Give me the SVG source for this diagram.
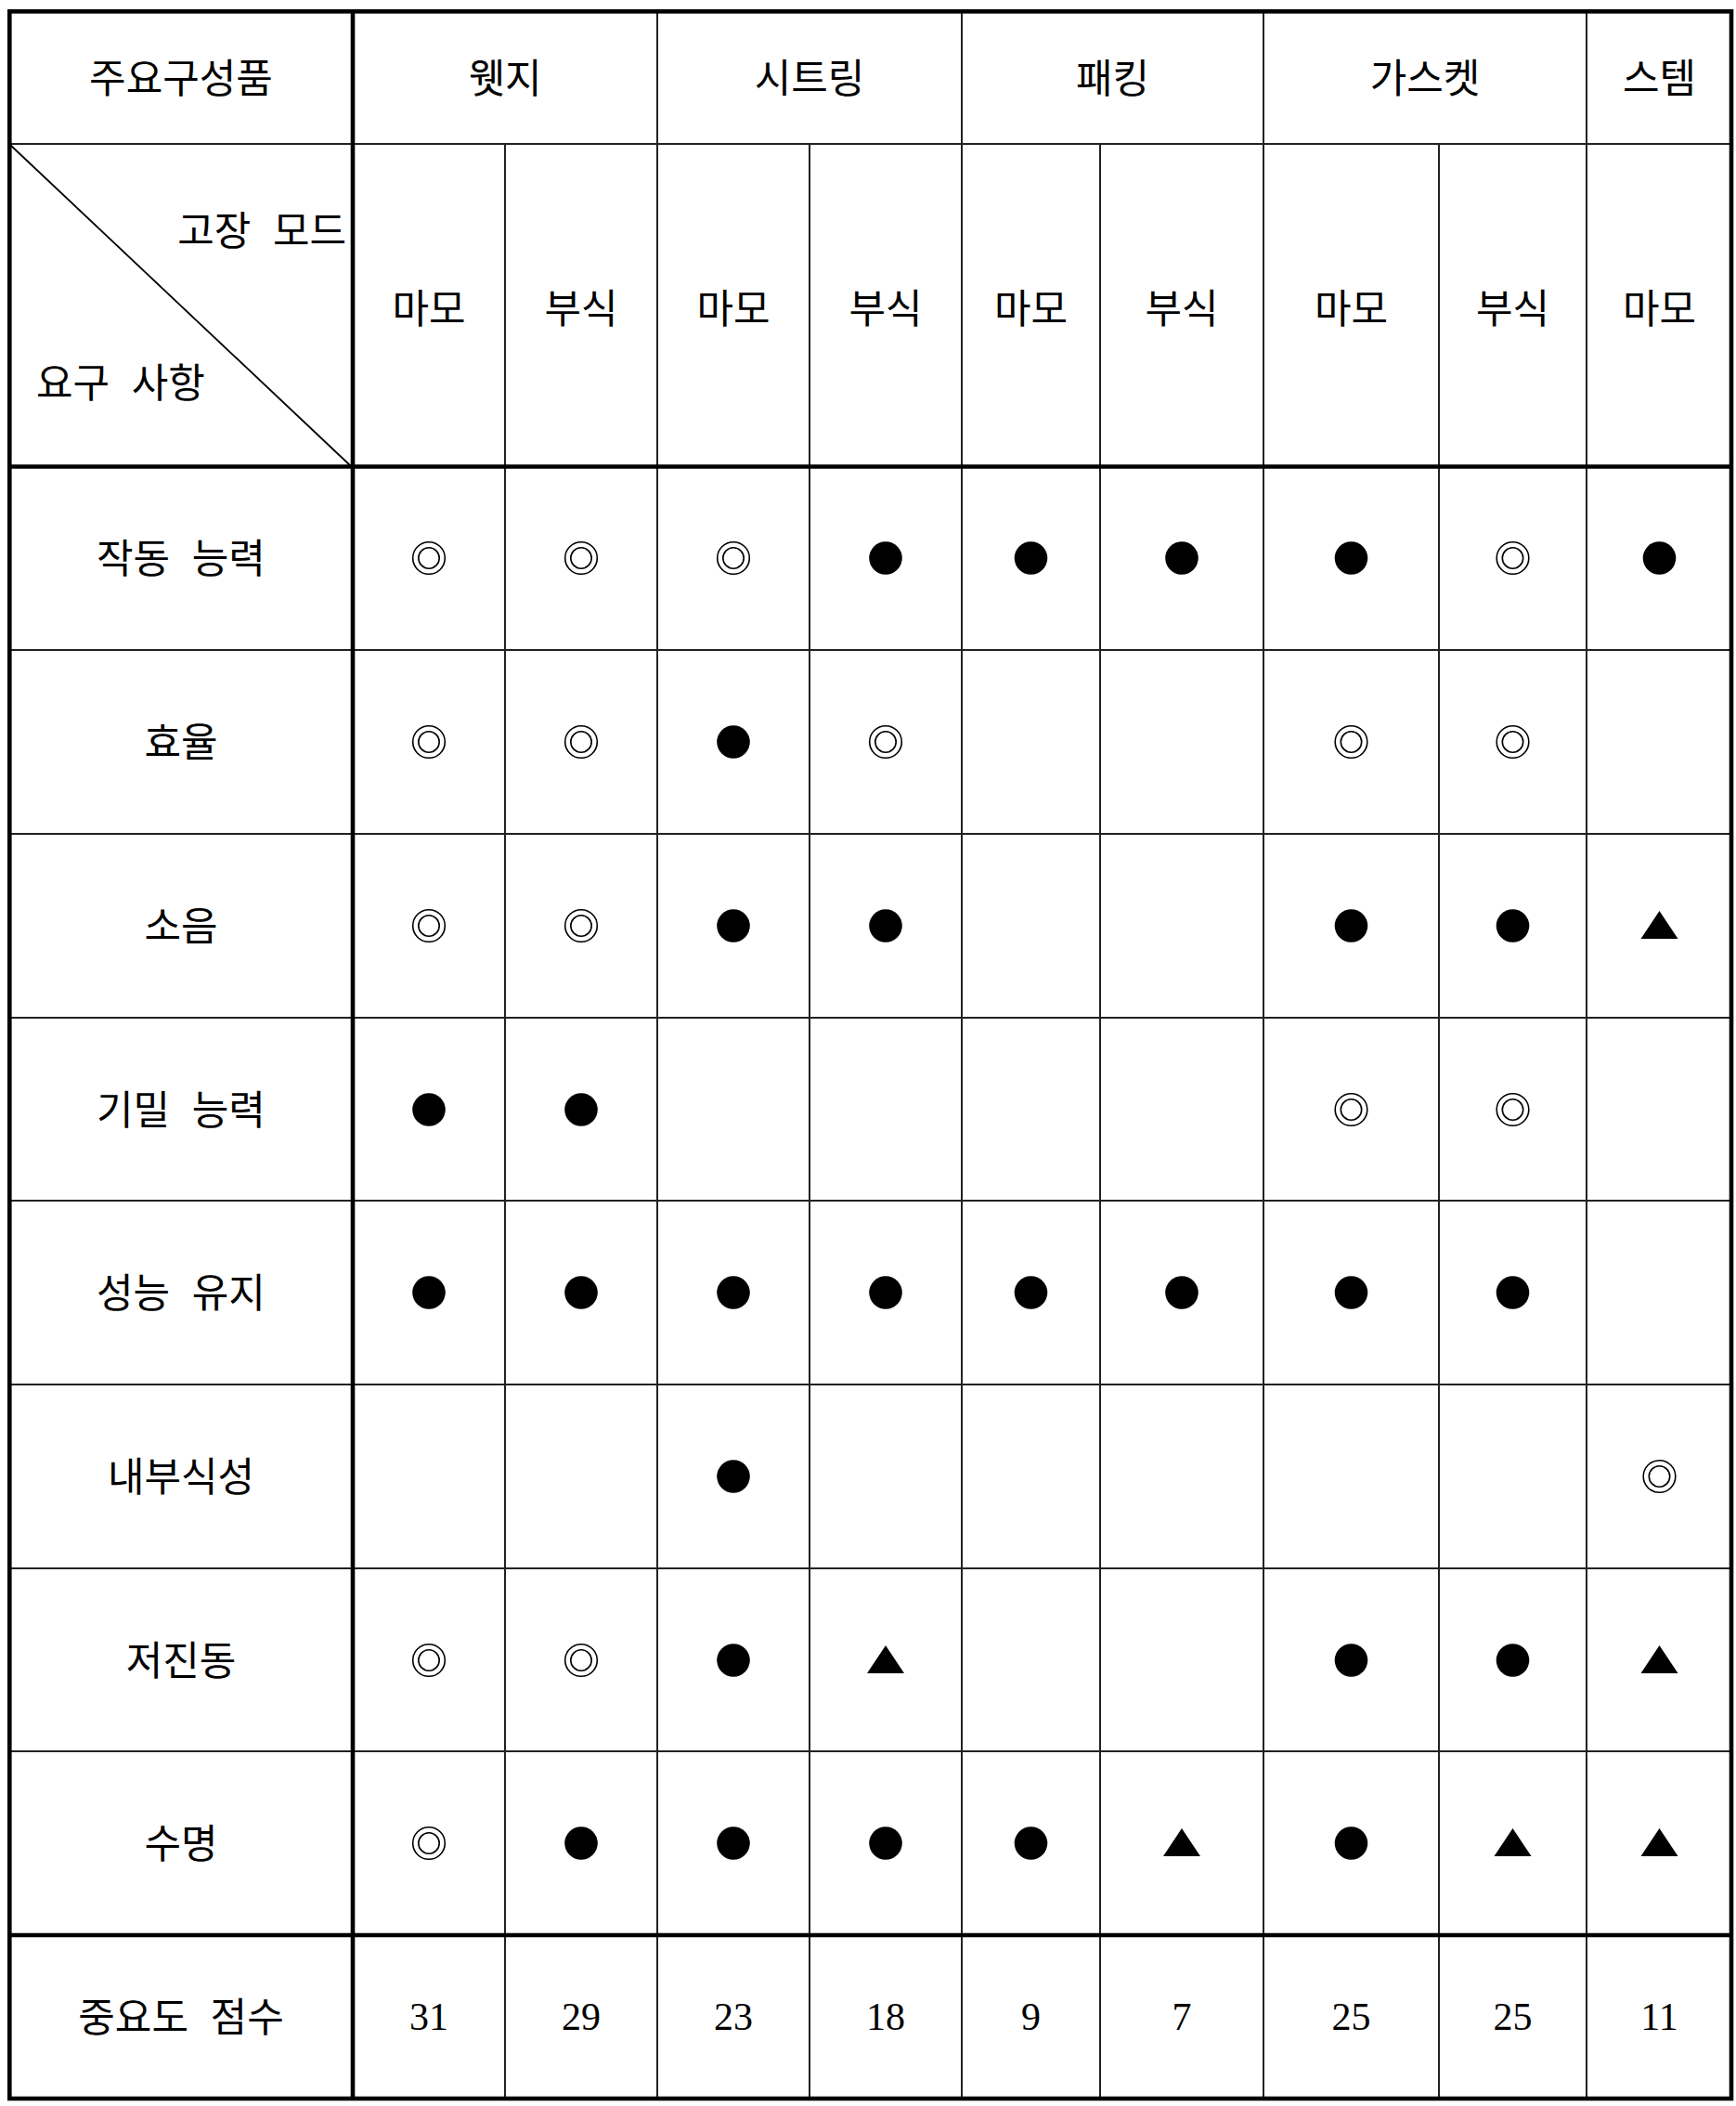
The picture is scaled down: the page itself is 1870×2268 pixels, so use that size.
<svg xmlns="http://www.w3.org/2000/svg" xmlns:xlink="http://www.w3.org/1999/xlink" width="1870" height="2268" viewBox="0 0 1870 2268">
<style>
.k{font-family:"Noto Sans CJK KR","Noto Sans",sans-serif;font-size:43px;fill:#000;text-anchor:middle;word-spacing:14px}
.n{font-family:"Liberation Serif","DejaVu Serif",serif;font-size:42px;fill:#000;text-anchor:middle}
.thin{stroke:#222;stroke-width:2;fill:none}
.thick{stroke:#000;stroke-width:4.6;fill:none}
</style>
<defs>
<g id="dc"><circle r="17.3" fill="none" stroke="#000" stroke-width="1.6"/><circle r="11.2" fill="none" stroke="#000" stroke-width="1.6"/></g>
<circle id="dot" r="17.8" fill="#000"/>
<polygon id="tri" points="0,-16 20,14 -20,14" fill="#000"/>
</defs>
<rect width="1870" height="2268" fill="#fff"/>
<g id="grid">
<g class="thin">
<line x1="10" y1="155" x2="1865" y2="155"/>
<line x1="10" y1="700" x2="1865" y2="700"/>
<line x1="10" y1="898" x2="1865" y2="898"/>
<line x1="10" y1="1096" x2="1865" y2="1096"/>
<line x1="10" y1="1293" x2="1865" y2="1293"/>
<line x1="10" y1="1491" x2="1865" y2="1491"/>
<line x1="10" y1="1689" x2="1865" y2="1689"/>
<line x1="10" y1="1886" x2="1865" y2="1886"/>
<line x1="544" y1="155" x2="544" y2="2260"/>
<line x1="708" y1="12" x2="708" y2="2260"/>
<line x1="872" y1="155" x2="872" y2="2260"/>
<line x1="1036" y1="12" x2="1036" y2="2260"/>
<line x1="1185" y1="155" x2="1185" y2="2260"/>
<line x1="1361" y1="12" x2="1361" y2="2260"/>
<line x1="1550" y1="155" x2="1550" y2="2260"/>
<line x1="1709" y1="12" x2="1709" y2="2260"/>
<line x1="11" y1="156" x2="378" y2="502" stroke-width="1.8" stroke="#000"/>
</g>
<g class="thick">
<line x1="380" y1="12" x2="380" y2="2260"/>
<line x1="10" y1="502.5" x2="1865" y2="502.5"/>
<line x1="10" y1="2084" x2="1865" y2="2084"/>
<rect x="10.3" y="12.3" width="1854.7" height="2247.7"/>
</g>
</g>
<g id="header">
<text class="k" x="195" y="100">주요구성품</text>
<text class="k" x="544" y="100">웻지</text>
<text class="k" x="872" y="100">시트링</text>
<text class="k" x="1198.5" y="100">패킹</text>
<text class="k" x="1535" y="100">가스켓</text>
<text class="k" x="1787.5" y="100">스템</text>
<text class="k" x="373" y="264" style="text-anchor:end">고장 모드</text>
<text class="k" x="39" y="428" style="text-anchor:start">요구 사항</text>
<text class="k" x="462" y="348">마모</text>
<text class="k" x="626" y="348">부식</text>
<text class="k" x="790" y="348">마모</text>
<text class="k" x="954" y="348">부식</text>
<text class="k" x="1110.5" y="348">마모</text>
<text class="k" x="1273" y="348">부식</text>
<text class="k" x="1455.5" y="348">마모</text>
<text class="k" x="1629.5" y="348">부식</text>
<text class="k" x="1787.5" y="348">마모</text>
</g>
<g id="row1">
<text class="k" x="195" y="617">작동 능력</text>
<use href="#dc" x="462" y="601"/><use href="#dc" x="626" y="601"/><use href="#dc" x="790" y="601"/>
<use href="#dot" x="954" y="601"/><use href="#dot" x="1110.5" y="601"/><use href="#dot" x="1273" y="601"/>
<use href="#dot" x="1455.5" y="601"/><use href="#dc" x="1629.5" y="601"/><use href="#dot" x="1787.5" y="601"/>
</g>
<g id="row2">
<text class="k" x="195" y="815">효율</text>
<use href="#dc" x="462" y="799"/><use href="#dc" x="626" y="799"/><use href="#dot" x="790" y="799"/>
<use href="#dc" x="954" y="799"/>
<use href="#dc" x="1455.5" y="799"/><use href="#dc" x="1629.5" y="799"/>
</g>
<g id="row3">
<text class="k" x="195" y="1013">소음</text>
<use href="#dc" x="462" y="997"/><use href="#dc" x="626" y="997"/><use href="#dot" x="790" y="997"/>
<use href="#dot" x="954" y="997"/>
<use href="#dot" x="1455.5" y="997"/><use href="#dot" x="1629.5" y="997"/><use href="#tri" x="1787.5" y="997"/>
</g>
<g id="row4">
<text class="k" x="195" y="1211">기밀 능력</text>
<use href="#dot" x="462" y="1195"/><use href="#dot" x="626" y="1195"/>
<use href="#dc" x="1455.5" y="1195"/><use href="#dc" x="1629.5" y="1195"/>
</g>
<g id="row5">
<text class="k" x="195" y="1408">성능 유지</text>
<use href="#dot" x="462" y="1392"/><use href="#dot" x="626" y="1392"/><use href="#dot" x="790" y="1392"/>
<use href="#dot" x="954" y="1392"/><use href="#dot" x="1110.5" y="1392"/><use href="#dot" x="1273" y="1392"/>
<use href="#dot" x="1455.5" y="1392"/><use href="#dot" x="1629.5" y="1392"/>
</g>
<g id="row6">
<text class="k" x="195" y="1606">내부식성</text>
<use href="#dot" x="790" y="1590"/>
<use href="#dc" x="1787.5" y="1590"/>
</g>
<g id="row7">
<text class="k" x="195" y="1804">저진동</text>
<use href="#dc" x="462" y="1788"/><use href="#dc" x="626" y="1788"/><use href="#dot" x="790" y="1788"/>
<use href="#tri" x="954" y="1788"/>
<use href="#dot" x="1455.5" y="1788"/><use href="#dot" x="1629.5" y="1788"/><use href="#tri" x="1787.5" y="1788"/>
</g>
<g id="row8">
<text class="k" x="195" y="2001">수명</text>
<use href="#dc" x="462" y="1985"/><use href="#dot" x="626" y="1985"/><use href="#dot" x="790" y="1985"/>
<use href="#dot" x="954" y="1985"/><use href="#dot" x="1110.5" y="1985"/><use href="#tri" x="1273" y="1985"/>
<use href="#dot" x="1455.5" y="1985"/><use href="#tri" x="1629.5" y="1985"/><use href="#tri" x="1787.5" y="1985"/>
</g>
<g id="score">
<text class="k" x="195" y="2188">중요도 점수</text>
<text class="n" x="462" y="2186">31</text>
<text class="n" x="626" y="2186">29</text>
<text class="n" x="790" y="2186">23</text>
<text class="n" x="954" y="2186">18</text>
<text class="n" x="1110.5" y="2186">9</text>
<text class="n" x="1273" y="2186">7</text>
<text class="n" x="1455.5" y="2186">25</text>
<text class="n" x="1629.5" y="2186">25</text>
<text class="n" x="1787.5" y="2186">11</text>
</g>
</svg>
